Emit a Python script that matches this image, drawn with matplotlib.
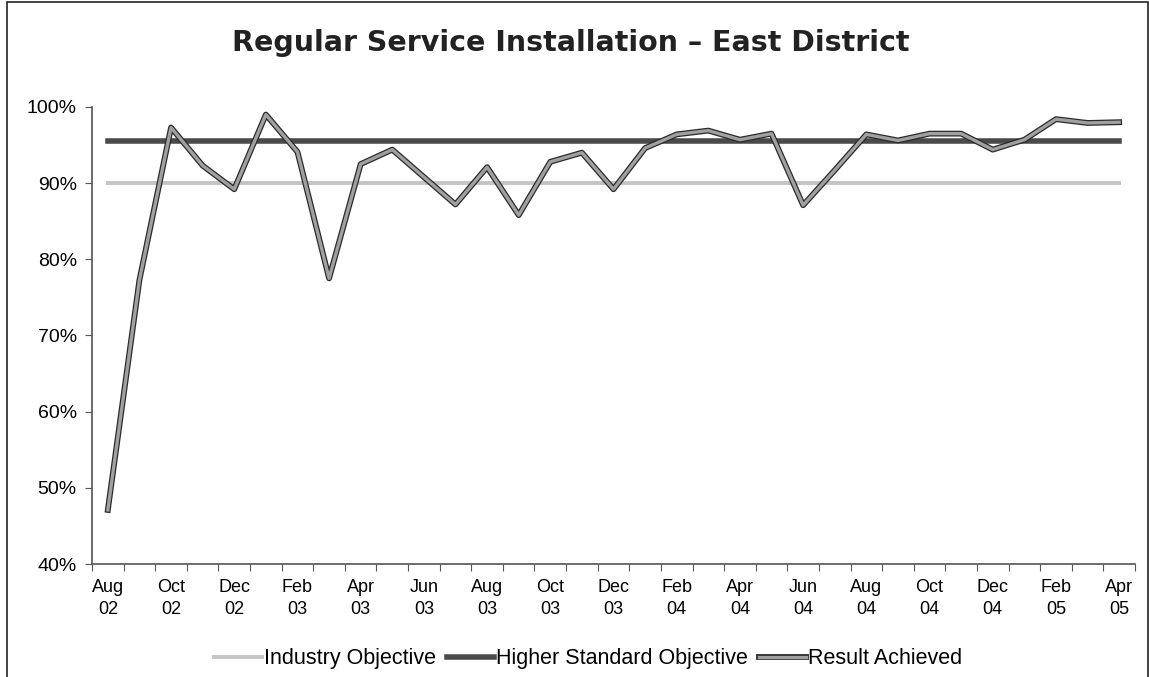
import numpy as np
import matplotlib.pyplot as plt
import matplotlib.patheffects as pe
from matplotlib.patches import Rectangle
from matplotlib.ticker import FixedLocator, FuncFormatter

months = ["Aug 02", "Sep 02", "Oct 02", "Nov 02", "Dec 02", "Jan 03", "Feb 03",
          "Mar 03", "Apr 03", "May 03", "Jun 03", "Jul 03", "Aug 03", "Sep 03",
          "Oct 03", "Nov 03", "Dec 03", "Jan 04", "Feb 04", "Mar 04", "Apr 04",
          "May 04", "Jun 04", "Jul 04", "Aug 04", "Sep 04", "Oct 04", "Nov 04",
          "Dec 04", "Jan 05", "Feb 05", "Mar 05", "Apr 05"]
result = [47.1, 77.3, 97.3, 92.3, 89.2, 99.0, 94.1, 77.5, 92.5, 94.4, 90.8,
          87.2, 92.1, 85.8, 92.8, 94.0, 89.2, 94.6, 96.4, 96.9, 95.7, 96.5,
          87.1, 91.7, 96.4, 95.6, 96.5, 96.5, 94.4, 95.7, 98.4, 97.9, 98.0]
industry = [90.0] * len(months)
higher = [95.5] * len(months)

plt.rcParams['font.family'] = ['Liberation Sans', 'DejaVu Sans']

fig = plt.figure(figsize=(11.49, 6.77), dpi=100)
fig.patches.append(Rectangle((0.006, -0.01), 0.993, 1.007, transform=fig.transFigure,
                             fill=False, edgecolor='#222222', linewidth=1.2))
ax = fig.add_axes([0.0801, 0.1669, 0.9077, 0.6751])

x = np.arange(len(months))
ax.plot(x, industry, color='#c4c4c4', lw=2.8, label="Industry Objective")
ax.plot(x, higher, color='#4a4a4a', lw=4, label="Higher Standard Objective")
ax.plot(x, result, color='#a0a0a0', lw=2.4, label="Result Achieved",
        path_effects=[pe.Stroke(linewidth=4.2, foreground='#2a2a2a'), pe.Normal()])

ax.set_xlim(-0.5, len(months) - 0.5)
ax.set_ylim(40, 100)
ax.yaxis.set_major_locator(FixedLocator(np.arange(40, 101, 10)))
ax.yaxis.set_major_formatter(FuncFormatter(lambda v, p: f"{v:.0f}%"))

# boundary ticks between months, labels every second month
ax.xaxis.set_major_locator(FixedLocator(np.arange(-0.5, len(months), 1)))
ax.xaxis.set_major_formatter(FuncFormatter(lambda v, p: ""))
ax.xaxis.set_minor_locator(FixedLocator(x[::2]))
ax.xaxis.set_minor_formatter(FuncFormatter(lambda v, p: months[int(round(v))].replace(" ", "\n")))
ax.tick_params(axis='x', which='major', direction='out', length=5, color='#555555')
ax.tick_params(axis='x', which='minor', length=0, pad=11, labelsize=13)
ax.tick_params(axis='y', direction='out', length=5, color='#555555', labelsize=14, pad=6)
for lbl in ax.get_xticklabels(minor=True):
    lbl.set_linespacing(1.35)

for s in ['top', 'right']:
    ax.spines[s].set_visible(False)
for s in ['left', 'bottom']:
    ax.spines[s].set_color('#555555')
    ax.spines[s].set_linewidth(1.2)

fig.text(0.497, 0.937, "Regular Service Installation – East District", ha='center', va='center',
         fontsize=20.5, fontweight='bold', family='DejaVu Sans', color='#222222')

fig.legend(loc='center', bbox_to_anchor=(0.512, 0.027), ncol=3, frameon=False,
           fontsize=15.5, handlelength=2.2, handletextpad=0.1, columnspacing=0.5)

fig.savefig("out.png", dpi=100)
